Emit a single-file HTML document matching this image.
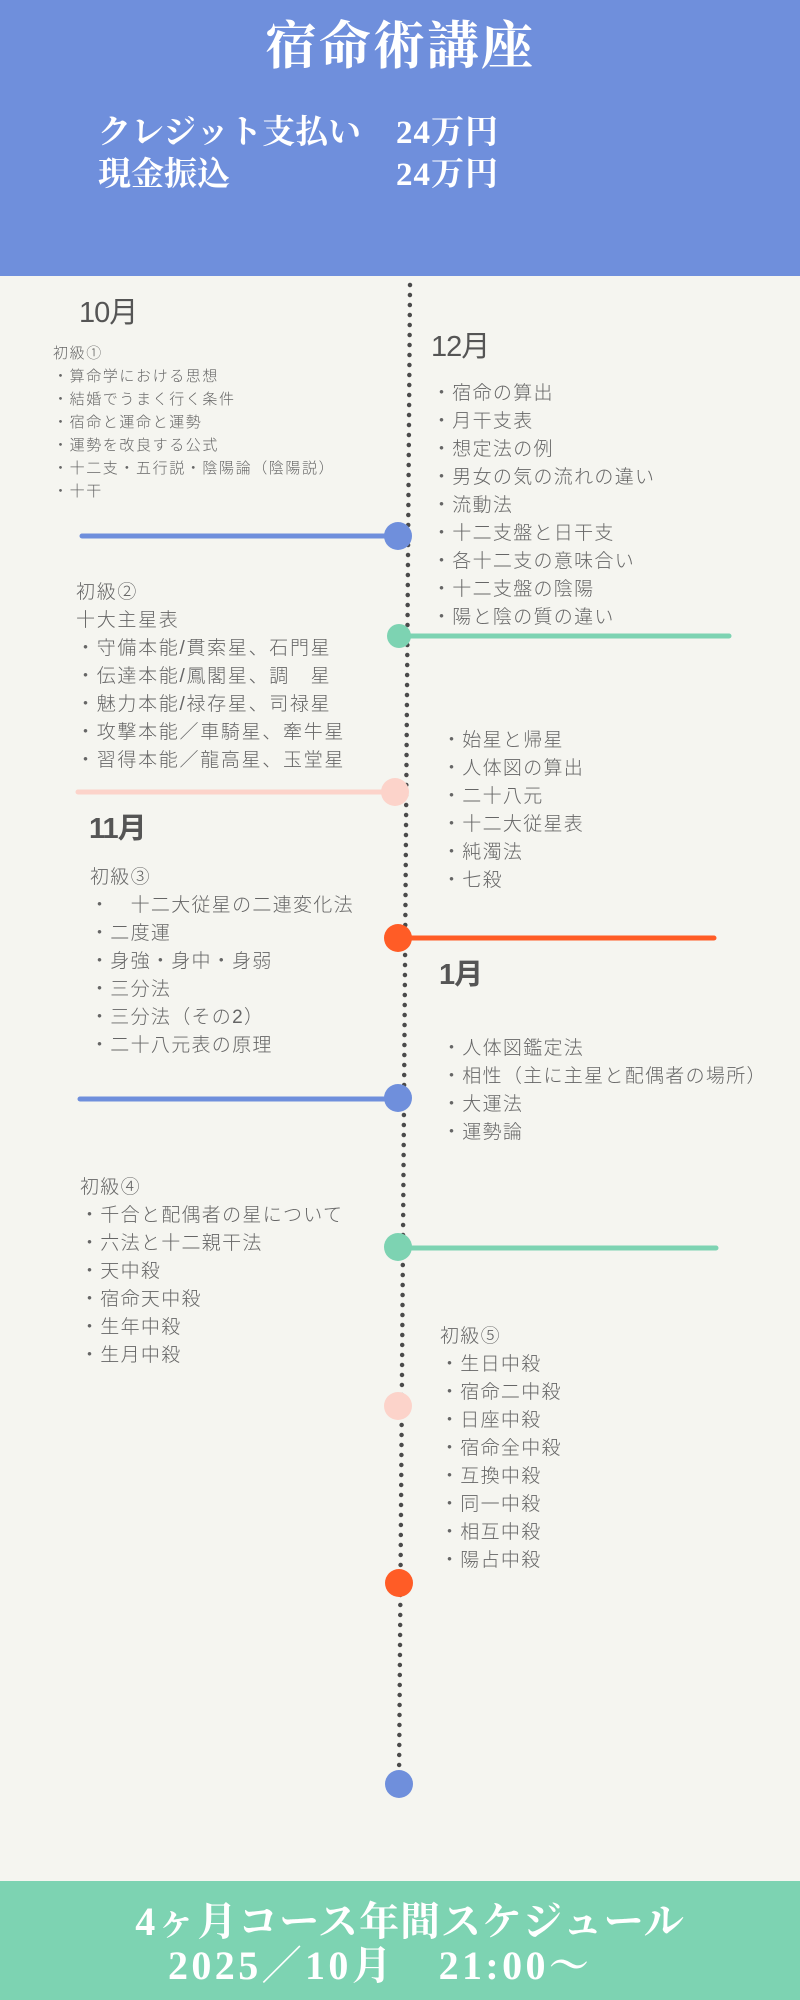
<!DOCTYPE html>
<html><head><meta charset="utf-8"><style>
*{margin:0;padding:0;box-sizing:border-box}
body{width:800px;height:2000px;position:relative;background:#f5f5f0;overflow:hidden;font-family:"Liberation Sans","Noto Sans CJK JP",sans-serif;color:#666}
.hd{position:absolute;left:0;top:0;width:800px;height:276px;background:#6f8fdc}
.ft{position:absolute;left:0;top:1881px;width:800px;height:119px;background:#7dd3b2}
.s{position:absolute;font-family:"Liberation Serif","Noto Serif CJK SC",serif;font-weight:bold;color:#fff;white-space:nowrap}
.t{position:absolute;white-space:nowrap;font-size:19px;line-height:28px;font-weight:300;color:#666;letter-spacing:1.3px}
.sm{font-size:15px;line-height:23px;letter-spacing:1.6px}
.m{position:absolute;white-space:nowrap;font-size:29px;line-height:36px;color:#555;letter-spacing:-1px}
</style></head><body>
<div class="hd"></div>
<div class="s" style="left:0;width:800px;text-align:center;top:18px;font-size:52px;line-height:60px;letter-spacing:2px">宿命術講座</div>
<div class="s" style="left:98px;top:113px;font-size:33px;line-height:40px">クレジット支払い</div>
<div class="s" style="left:396px;top:113px;font-size:33px;line-height:40px;letter-spacing:1px">24万円</div>
<div class="s" style="left:98px;top:155px;font-size:33px;line-height:40px">現金振込</div>
<div class="s" style="left:396px;top:155px;font-size:33px;line-height:40px;letter-spacing:1px">24万円</div>

<svg style="position:absolute;left:0;top:0" width="800" height="2000">
<line x1="410" y1="285" x2="399" y2="1784" stroke="#4a4a4a" stroke-width="4.5" stroke-linecap="round" stroke-dasharray="0 10"/>
<g stroke-width="5" stroke-linecap="round">
<line x1="82" y1="536" x2="398" y2="536" stroke="#6f8fdc"/>
<line x1="398" y1="636" x2="729" y2="636" stroke="#7dd3b2"/>
<line x1="78" y1="792" x2="394" y2="792" stroke="#fcd3ca"/>
<line x1="398" y1="938" x2="714" y2="938" stroke="#ff5c26"/>
<line x1="80" y1="1099" x2="398" y2="1099" stroke="#6f8fdc"/>
<line x1="398" y1="1248" x2="716" y2="1248" stroke="#7dd3b2"/>
</g>
<circle cx="398" cy="536" r="14" fill="#6f8fdc"/>
<circle cx="399" cy="636" r="12" fill="#7dd3b2"/>
<circle cx="395" cy="792" r="14" fill="#fcd3ca"/>
<circle cx="398" cy="938" r="14" fill="#ff5c26"/>
<circle cx="398" cy="1098" r="14" fill="#6f8fdc"/>
<circle cx="398" cy="1247" r="14" fill="#7dd3b2"/>
<circle cx="398" cy="1406" r="14" fill="#fcd3ca"/>
<circle cx="399" cy="1583" r="14" fill="#ff5c26"/>
<circle cx="399" cy="1784" r="14" fill="#6f8fdc"/>
</svg>

<div class="m" style="left:79px;top:295px">10月</div>
<div class="t sm" style="left:53px;top:342px">初級①<br>・算命学における思想<br>・結婚でうまく行く条件<br>・宿命と運命と運勢<br>・運勢を改良する公式<br>・十二支・五行説・陰陽論（陰陽説）<br>・十干</div>

<div class="m" style="left:431px;top:329px">12月</div>
<div class="t" style="left:432px;top:380px">・宿命の算出<br>・月干支表<br>・想定法の例<br>・男女の気の流れの違い<br>・流動法<br>・十二支盤と日干支<br>・各十二支の意味合い<br>・十二支盤の陰陽<br>・陽と陰の質の違い</div>

<div class="t" style="left:76px;top:579px;letter-spacing:1.7px">初級②<br>十大主星表<br>・守備本能/貫索星、石門星<br>・伝達本能/鳳閣星、調　星<br>・魅力本能/禄存星、司禄星<br>・攻撃本能／車騎星、牽牛星<br>・習得本能／龍高星、玉堂星</div>

<div class="t" style="left:442px;top:727px">・始星と帰星<br>・人体図の算出<br>・二十八元<br>・十二大従星表<br>・純濁法<br>・七殺</div>

<div class="m" style="left:89px;top:811px;font-weight:bold">11月</div>
<div class="t" style="left:90px;top:864px">初級③<br>・　十二大従星の二連変化法<br>・二度運<br>・身強・身中・身弱<br>・三分法<br>・三分法（その2）<br>・二十八元表の原理</div>

<div class="m" style="left:439px;top:957px;font-weight:bold">1月</div>
<div class="t" style="left:442px;top:1035px">・人体図鑑定法<br>・相性（主に主星と配偶者の場所）<br>・大運法<br>・運勢論</div>

<div class="t" style="left:80px;top:1174px">初級④<br>・千合と配偶者の星について<br>・六法と十二親干法<br>・天中殺<br>・宿命天中殺<br>・生年中殺<br>・生月中殺</div>

<div class="t" style="left:440px;top:1323px">初級⑤<br>・生日中殺<br>・宿命二中殺<br>・日座中殺<br>・宿命全中殺<br>・互換中殺<br>・同一中殺<br>・相互中殺<br>・陽占中殺</div>

<div class="ft"></div>
<div class="s" style="left:10px;width:800px;text-align:center;top:1899px;font-size:40px;line-height:46px;letter-spacing:1px">4ヶ月コース年間スケジュール</div>
<div class="s" style="left:168px;top:1943px;font-size:40px;line-height:46px;letter-spacing:3.4px">2025／10月　21:00〜</div>
</body></html>
